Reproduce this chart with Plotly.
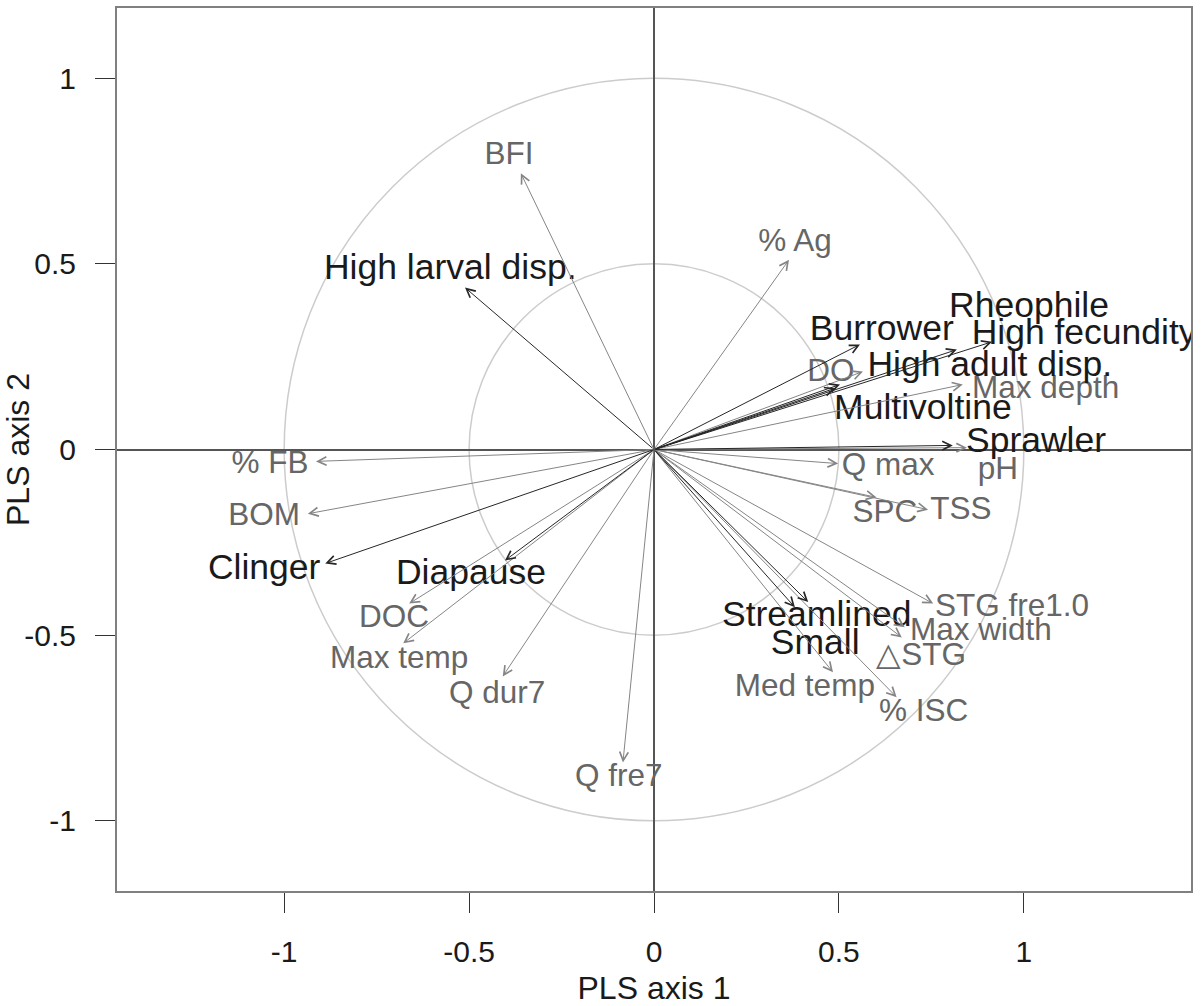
import plotly.graph_objects as go

# ---- data ----
trait_names = ["High larval disp.", "Clinger", "Diapause", "Burrower", "Rheophile",
               "High fecundity", "High adult disp.", "Multivoltine", "Sprawler",
               "Streamlined", "Small"]
trait_x = [-0.511, -0.889, -0.403, 0.557, 0.819, 0.914, 0.503, 0.490, 0.808, 0.417, 0.381]
trait_y = [0.436, -0.307, -0.299, 0.283, 0.269, 0.290, 0.175, 0.165, 0.011, -0.411, -0.425]
trait_lab_x = [-0.551, -1.054, -0.495, 0.616, 1.014, 1.163, 0.908, 0.727, 1.033, 0.440, 0.436]
trait_lab_y = [0.482, -0.326, -0.339, 0.320, 0.382, 0.307, 0.221, 0.105, 0.016, -0.452, -0.528]

env_names = ["BFI", "% Ag", "DO", "Max depth", "pH", "Q max", "SPC", "TSS",
             "STG fre1.0", "Max width", "\u25B3STG", "% ISC", "Med temp", "% FB",
             "BOM", "DOC", "Max temp", "Q dur7", "Q fre7"]
env_x = [-0.360, 0.365, 0.565, 0.835, 0.846, 0.498, 0.602, 0.741, 0.755, 0.678,
         0.670, 0.656, 0.484, -0.914, -0.936, -0.662, -0.678, -0.409, -0.084]
env_y = [0.744, 0.511, 0.210, 0.175, 0.005, -0.038, -0.129, -0.162, -0.415, -0.479,
         -0.506, -0.667, -0.600, -0.032, -0.173, -0.415, -0.522, -0.611, -0.843]
env_lab_x = [-0.392, 0.381, 0.478, 1.059, 0.930, 0.633, 0.624, 0.830, 0.968, 0.884,
             0.722, 0.729, 0.408, -1.038, -1.054, -0.703, -0.689, -0.424, -0.095]
env_lab_y = [0.791, 0.557, 0.205, 0.159, -0.057, -0.048, -0.175, -0.167, -0.428, -0.493,
             -0.560, -0.711, -0.643, -0.043, -0.183, -0.458, -0.568, -0.662, -0.886]

tick_vals = [-1, -0.5, 0, 0.5, 1]
tick_text = ["-1", "-0.5", "0", "0.5", "1"]
circle_radii = [1.0, 0.5]

FONT = "Liberation Sans, Arial, sans-serif"
TRAIT_COLOR = "#1a1a1a"
ENV_COLOR = "#666666"
TRAIT_ARROW = "#262626"
ENV_ARROW = "#858585"

fig = go.Figure()

# label traces
fig.add_trace(go.Scatter(x=env_lab_x, y=env_lab_y, text=env_names, mode="text",
                         textposition="middle center",
                         textfont=dict(family=FONT, size=31.5, color=ENV_COLOR),
                         hoverinfo="skip"))
fig.add_trace(go.Scatter(x=trait_lab_x, y=trait_lab_y, text=trait_names, mode="text",
                         textposition="middle center",
                         textfont=dict(family=FONT, size=35.5, color=TRAIT_COLOR),
                         hoverinfo="skip"))

annotations = []
for xs, ys, col in [(env_x, env_y, ENV_ARROW), (trait_x, trait_y, TRAIT_ARROW)]:
    for xv, yv in zip(xs, ys):
        annotations.append(dict(x=xv, y=yv, ax=0, ay=0, xref="x", yref="y",
                                axref="x", ayref="y", text="", showarrow=True,
                                arrowhead=5, arrowsize=1.7, arrowwidth=1,
                                arrowcolor=col, standoff=0, startstandoff=0))

shapes = []
for r in circle_radii:
    shapes.append(dict(type="circle", xref="x", yref="y", x0=-r, y0=-r, x1=r, y1=r,
                       line=dict(color="#cccccc", width=1.5), layer="below"))

axis_common = dict(tickvals=tick_vals, ticktext=tick_text, ticks="outside", ticklen=20,
                   tickwidth=1, tickcolor="#333333", showgrid=False, zeroline=True,
                   zerolinecolor="#555555", zerolinewidth=1.5, showline=True, mirror=True,
                   linecolor="#808080", linewidth=2, automargin=False,
                   tickfont=dict(family=FONT, size=30, color="#1a1a1a"))

fig.update_layout(
    width=1201, height=1006,
    margin=dict(l=117, r=10, t=8, b=115),
    plot_bgcolor="white", paper_bgcolor="white", showlegend=False,
    font=dict(family=FONT, color="#1a1a1a"),
    xaxis=dict(range=[-1.452, 1.452], title=dict(text="PLS axis 1", standoff=10,
               font=dict(family=FONT, size=32, color="#1a1a1a")),
               ticklabelstandoff=13, **axis_common),
    yaxis=dict(range=[-1.189, 1.189], title=dict(text="PLS axis 2", standoff=12,
               font=dict(family=FONT, size=32, color="#1a1a1a")),
               ticklabelstandoff=13, **axis_common),
    annotations=annotations, shapes=shapes,
)

fig.write_html("out.html")
